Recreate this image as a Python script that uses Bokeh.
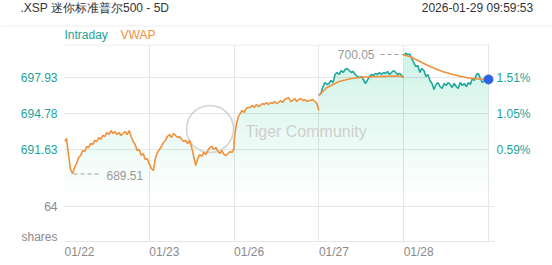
import numpy as np
from bokeh.plotting import figure
from bokeh.layouts import column
from bokeh.models import Range1d, FixedTicker, LinearAxis, Label
from bokeh.core.properties import value
from bokeh.embed import file_html
from bokeh.resources import INLINE

# ---------------- data ----------------
title_text = ".XSP 迷你标准普尔500 - 5D"
timestamp_text = "2026-01-29  09:59:53"
legend_names = ["Intraday", "VWAP"]
dates = ["01/22", "01/23", "01/26", "01/27", "01/28"]
price_ticks = [697.93, 694.78, 691.63]
pct_labels = ["1.51%", "1.05%", "0.59%"]
volume_ticks = [64]
volume_unit = "shares"
high_price = 700.05
low_price = 689.51

day1 = [692.33, 692.59, 691.19, 689.88, 689.51, 690.06, 690.41, 690.93, 691.11, 691.54,
        691.46, 691.89, 691.81, 692.16, 692.07, 692.42, 692.33, 692.68, 692.51, 692.86,
        692.77, 693.12, 692.94, 693.29, 693.03, 693.21, 692.94, 693.12, 692.86, 693.03,
        693.21, 692.94, 693.29, 692.77, 692.33, 692.07, 691.54, 691.63, 691.11, 691.28,
        690.76, 690.84, 690.32]
day2 = [690.41, 689.97, 689.79, 690.84, 691.37, 691.63, 691.89, 692.24, 692.42, 692.77,
        692.94, 692.68, 693.03, 692.86, 692.68, 692.77, 692.51, 692.33, 692.42, 692.16,
        692.42, 691.81, 691.02, 690.23, 690.84, 691.19, 691.02, 691.37, 691.19, 691.54,
        691.81, 691.89, 691.63, 691.81, 691.46, 691.28, 691.54, 691.19, 691.11, 691.28,
        691.46, 691.37, 691.72]
day3 = [692.42, 693.73, 694.43, 694.78, 695.04, 694.87, 695.22, 695.31, 695.31, 695.48,
        695.31, 695.57, 695.39, 695.48, 695.66, 695.57, 695.74, 695.57, 695.74, 695.66,
        695.83, 695.66, 695.74, 695.92, 695.74, 696.01, 696.09, 696.18, 695.83, 695.92,
        696.09, 695.83, 696.01, 696.09, 695.92, 696.01, 695.83, 695.92, 695.92, 696.01,
        695.83, 695.66, 695.04]
day4 = [696.36, 696.53, 697.14, 697.49, 697.32, 697.41, 697.67, 697.49, 698.19, 698.37,
        698.19, 698.54, 698.37, 698.63, 698.72, 698.54, 698.37, 698.46, 698.19, 698.02,
        697.93, 698.02, 697.76, 697.41, 697.67, 698.02, 698.19, 698.11, 698.28, 698.19,
        698.37, 698.19, 698.37, 698.28, 698.46, 698.19, 698.37, 698.54, 698.37, 698.19,
        698.28, 698.11, 697.93]
day5 = [699.86, 700.05, 699.94, 699.98, 699.59, 699.24, 698.89, 698.98, 698.37, 698.72,
        698.54, 698.02, 698.19, 697.67, 697.41, 696.88, 697.32, 697.49, 697.14, 696.97,
        697.41, 697.23, 697.49, 697.32, 697.06, 697.41, 697.14, 696.97, 697.49, 697.23,
        697.41, 697.14, 697.49, 697.32, 697.84, 697.67, 698.19, 698.28, 697.84, 697.49,
        697.67, 697.76, 697.76]
vwap4 = [696.36, 696.53, 696.71, 696.88, 697.06, 697.14, 697.23, 697.32, 697.41, 697.49,
         697.58, 697.62, 697.67, 697.71, 697.76, 697.80, 697.84, 697.86, 697.89, 697.90,
         697.93, 697.95, 697.96, 697.97, 697.97, 697.98, 697.99, 698.00, 698.01, 698.02,
         698.02, 698.03, 698.03, 698.03, 698.04, 698.04, 698.05, 698.05, 698.05, 698.05,
         698.04, 698.03, 698.02]
vwap5 = [699.90, 699.86, 699.81, 699.77, 699.68, 699.59, 699.51, 699.42, 699.33, 699.24,
         699.16, 699.07, 698.98, 698.89, 698.82, 698.75, 698.68, 698.61, 698.54, 698.48,
         698.42, 698.37, 698.32, 698.26, 698.21, 698.17, 698.12, 698.08, 698.03, 698.00,
         697.97, 697.93, 697.90, 697.88, 697.85, 697.83, 697.82, 697.80, 697.79, 697.78,
         697.77, 697.76, 697.76]

# ---------------- style ----------------
FONT = "Liberation Sans"
TEAL = "#1ba39b"
TEAL_LINE = "#1ea89c"
ORANGE = "#f0913a"
GRID = "#e6e6e6"
GRAY = "#8a8a8a"
DARK = "#333333"

W = 552
LEFT, RIGHT = 64, 58
PX_PER_DAY = 84.8
PX_PER_PRICE = 72 / (697.93 - 691.63)
XR = 430 / PX_PER_DAY


def px_x(px):
    return (px - 64) / PX_PER_DAY


def px_y(py):
    return 697.93 - (py - 77) / PX_PER_PRICE


def bare(fig):
    fig.outline_line_color = None
    fig.background_fill_color = "white"
    fig.border_fill_color = "white"


def style_axis(ax, color):
    ax.axis_line_color = None
    ax.major_tick_line_color = None
    ax.minor_tick_line_color = None
    ax.major_tick_out = 0
    ax.major_tick_in = 0
    ax.major_label_text_font = FONT
    ax.major_label_text_font_size = "12px"
    ax.major_label_text_color = color


# ---------------- header ----------------
h = figure(width=W, height=44, output_backend="svg", toolbar_location=None,
           x_range=Range1d(0, W), y_range=Range1d(44, 0),
           x_axis_location=None, y_axis_location=None, min_border=0,
           frame_align=False)
bare(h)
h.grid.visible = False
h.segment(x0=[0], x1=[W], y0=[25.5], y1=[25.5], line_color="#eeeeee", line_width=1)
h.text(x=[20], y=[7.5], text=[title_text], text_font=value(FONT), text_font_size="12px",
       text_color=DARK, text_align="left", text_baseline="middle")
h.text(x=[536], y=[7.5], text=[timestamp_text], text_font=value(FONT), text_font_size="12px",
       text_color=DARK, text_align="right", text_baseline="middle")
h.text(x=[64, 120], y=[34, 34], text=legend_names, text_font=value(FONT),
       text_font_size="12px", text_color=[TEAL, ORANGE], text_align="left",
       text_baseline="middle")

# ---------------- price panel ----------------
days = [day1, day2, day3, day4, day5]
xs = [np.array([d + i / (len(v) - 1) for i in range(len(v))]) for d, v in enumerate(days)]

p = figure(width=W, height=148, output_backend="svg", toolbar_location=None,
           x_range=Range1d(0, XR), y_range=Range1d(px_y(192), px_y(44)),
           x_axis_location=None, min_border_left=LEFT, min_border_right=RIGHT,
           min_border_top=0, min_border_bottom=0)
bare(p)
p.ygrid.visible = False
p.xgrid.ticker = FixedTicker(ticks=[0, 1, 2, 3, 4, 5])
p.xgrid.grid_line_color = GRID
h_lines = price_ticks + [px_y(44.5)]
p.segment(x0=[0] * len(h_lines), x1=[5] * len(h_lines), y0=h_lines, y1=h_lines,
          line_color=GRID, line_width=1)

all_x = np.concatenate(xs)
all_y = np.concatenate([np.array(v) for v in days])
levels = np.linspace(px_y(192), px_y(60), 12)
for lv in levels:
    p.varea(x=all_x, y1=all_y, y2=np.minimum(all_y, lv), fill_color="#2ed69a",
            fill_alpha=0.019)

# watermark
p.scatter(x=[px_x(209.5)], y=[px_y(128.5)], size=47, marker="circle", fill_color=None,
          line_color="#d2d2d2", line_width=1.5)
p.add_layout(Label(x=px_x(245), y=px_y(131), text="Tiger Community", text_font=FONT,
                   text_font_size="16px", text_color="#cfcfcf", text_baseline="middle",
                   text_align="left"))

p.line(np.concatenate(xs[:3]), np.concatenate([np.array(v) for v in days[:3]]),
       line_color=ORANGE, line_width=1.6)
p.line(xs[3], day4, line_color=TEAL_LINE, line_width=1.6)
p.line(xs[4], day5, line_color=TEAL_LINE, line_width=1.6)
p.line(xs[3], vwap4, line_color=ORANGE, line_width=1.6)
p.line(xs[4], vwap5, line_color=ORANGE, line_width=1.6)
p.scatter(x=[xs[4][-1]], y=[day5[-1]], size=9, marker="circle", fill_color="#2f62e0",
          line_color="#2f62e0")

p.segment(x0=[px_x(380)], x1=[px_x(403)], y0=[px_y(54)], y1=[px_y(54)],
          line_color="#a0a0a0", line_width=1.2, line_dash="4 3")
p.add_layout(Label(x=px_x(374), y=px_y(54), text=f"{high_price:.2f}", text_font=FONT,
                   text_font_size="12px", text_color="#999999", text_align="right",
                   text_baseline="middle"))
p.segment(x0=[px_x(73)], x1=[px_x(101)], y0=[px_y(173.5)], y1=[px_y(173.5)],
          line_color="#a0a0a0", line_width=1.2, line_dash="4 3")
p.add_layout(Label(x=px_x(106), y=px_y(174.5), text=f"{low_price:.2f}", text_font=FONT,
                   text_font_size="12px", text_color="#999999", text_align="left",
                   text_baseline="middle"))

p.yaxis.ticker = FixedTicker(ticks=price_ticks)
p.yaxis.major_label_overrides = {t: f"{t:.2f}" for t in price_ticks}
style_axis(p.yaxis[0], TEAL)
p.yaxis.major_label_standoff = 7

ra = LinearAxis(ticker=FixedTicker(ticks=price_ticks),
                major_label_overrides={t: lab for t, lab in zip(price_ticks, pct_labels)})
style_axis(ra, TEAL)
ra.major_label_standoff = 2
p.add_layout(ra, "right")

# ---------------- volume panel ----------------
VOL_TOP = 64 * 49 / 35
shares_pos = 64 * 5 / 35
v = figure(width=W, height=73, output_backend="svg", toolbar_location=None,
           x_range=p.x_range, y_range=Range1d(0, VOL_TOP),
           min_border_left=LEFT, min_border_right=RIGHT, min_border_top=0,
           min_border_bottom=24)
bare(v)
v.xgrid.ticker = FixedTicker(ticks=[0, 1, 2, 3, 4, 5])
v.xgrid.grid_line_color = GRID
v.ygrid.ticker = FixedTicker(ticks=volume_ticks)
v.ygrid.grid_line_color = GRID

x_ticks = [d + 0.177 for d in range(len(dates))]
v.xaxis.ticker = FixedTicker(ticks=x_ticks)
v.xaxis.major_label_overrides = {t: lab for t, lab in zip(x_ticks, dates)}
style_axis(v.xaxis[0], GRAY)
v.xaxis.axis_line_color = GRID
v.xaxis.major_label_standoff = 3

v.yaxis.ticker = FixedTicker(ticks=volume_ticks + [shares_pos])
v.yaxis.major_label_overrides = {**{t: str(t) for t in volume_ticks}, shares_pos: volume_unit}
style_axis(v.yaxis[0], GRAY)
v.yaxis.major_label_standoff = 7

layout = column(h, p, v, spacing=0)
open("out.html", "w").write(file_html(layout, INLINE))
